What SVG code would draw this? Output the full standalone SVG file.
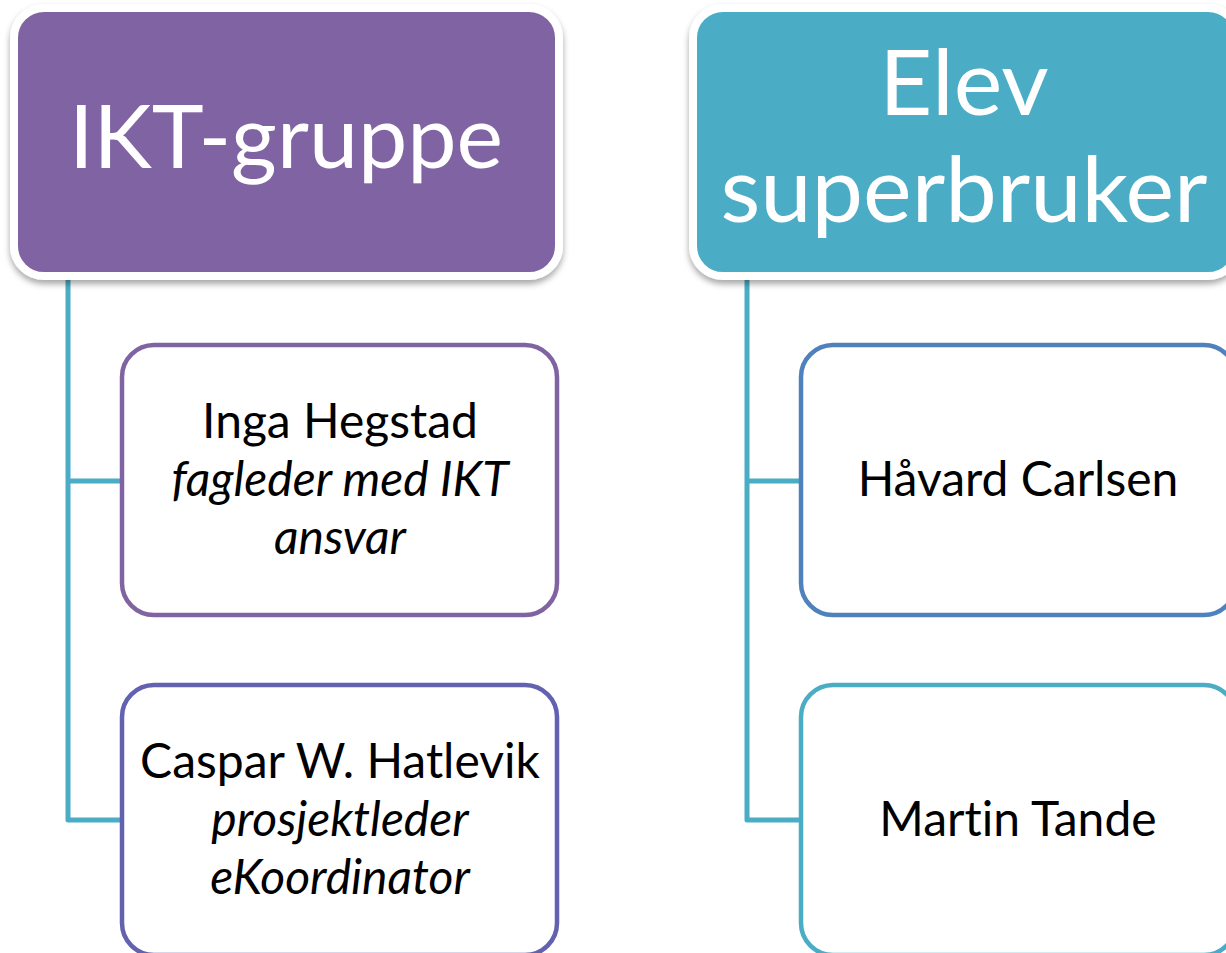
<svg xmlns="http://www.w3.org/2000/svg" width="1226" height="953" viewBox="0 0 1226 953">
<defs>
<filter id="sh" x="-5%" y="-5%" width="110%" height="115%">
<feDropShadow dx="0" dy="4" stdDeviation="3" flood-color="#000" flood-opacity="0.35"/>
</filter>
</defs>
<style>
.hdr{stroke:#fff;stroke-width:8;filter:url(#sh)}
.child{fill:#fff;stroke-width:4.5}
.conn{fill:none;stroke:#4BACC6;stroke-width:5;stroke-linejoin:round}
.ht{font-family:Lato,"Liberation Sans",sans-serif;fill:#fff;text-anchor:middle;font-variant-ligatures:none}
.ct{font-family:Lato,"Liberation Sans",sans-serif;fill:#000;text-anchor:middle;font-size:48px;font-variant-ligatures:none}
.it{font-style:italic}
</style>
<rect width="1226" height="953" fill="#fff"/>
<g id="connectors">
<path class="conn" d="M68,278 V820 H124 M68,481 H124"/>
<path class="conn" d="M747,278 V820 H803 M747,481 H803"/>
</g>
<g id="ikt-gruppe">
<rect class="hdr" x="14" y="8" width="545" height="268" rx="30" fill="#8064A2"/>
<text class="ht" x="286" y="168" font-size="88">IKT-gruppe</text>
</g>
<g id="inga">
<rect class="child" x="122" y="345" width="435" height="270" rx="32" stroke="#8064A2"/>
<text class="ct" x="340" y="438">Inga Hegstad</text>
<text class="ct it" x="340" y="496">fagleder med IKT</text>
<text class="ct it" x="340" y="554">ansvar</text>
</g>
<g id="caspar">
<rect class="child" x="122" y="685" width="435" height="270" rx="32" stroke="#6262B0"/>
<text class="ct" x="340" y="778">Caspar W. Hatlevik</text>
<text class="ct it" x="340" y="836">prosjektleder</text>
<text class="ct it" x="340" y="894">eKoordinator</text>
</g>
<g id="elev-superbruker">
<rect class="hdr" x="693" y="8" width="545" height="268" rx="30" fill="#4BACC6"/>
<text class="ht" x="964" y="115" font-size="92">Elev</text>
<text class="ht" x="964" y="222" font-size="92">superbruker</text>
</g>
<g id="havard">
<rect class="child" x="801" y="345" width="435" height="270" rx="32" stroke="#4F81BD"/>
<text class="ct" x="1018" y="496">Håvard Carlsen</text>
</g>
<g id="martin">
<rect class="child" x="801" y="685" width="435" height="270" rx="32" stroke="#4BACC6"/>
<text class="ct" x="1018" y="836">Martin Tande</text>
</g>
</svg>
